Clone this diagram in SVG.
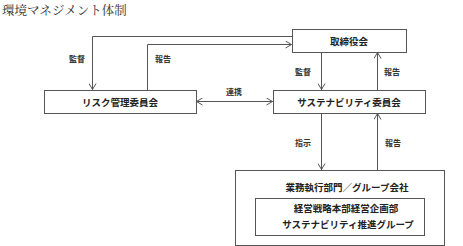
<svg xmlns="http://www.w3.org/2000/svg" width="463" height="246" viewBox="0 0 463 246">
<style>
.box{fill:#fff;stroke:#555;stroke-width:1}
.t{font-family:"Noto Sans CJK JP","Noto Sans CJK SC",sans-serif;font-weight:bold;font-size:9.5px;fill:#222;text-anchor:middle}
.l{font-family:"Noto Sans CJK JP","Noto Sans CJK SC",sans-serif;font-weight:bold;font-size:8px;fill:#333;text-anchor:middle}
.c{fill:none;stroke:#555;stroke-width:1}
</style>
<defs>
<marker id="a" viewBox="0 0 8 8" refX="7" refY="4" markerWidth="8" markerHeight="8" markerUnits="userSpaceOnUse" orient="auto-start-reverse">
<path d="M1,0.5 L7,4 L1,7.5" fill="none" stroke="#555" stroke-width="1"/>
</marker>
</defs>
<text x="2" y="14.5" font-family="'Noto Serif CJK JP','Noto Sans CJK JP',serif" font-size="12.5" fill="#333">環境マネジメント体制</text>
<g id="connectors">
<path class="c" d="M292,36.5 H92.5 V89.5" marker-end="url(#a)"/>
<path class="c" d="M147.5,90 V44.5 H291.5" marker-end="url(#a)"/>
<path class="c" d="M196.5,101.5 H272.5" marker-start="url(#a)" marker-end="url(#a)"/>
<path class="c" d="M321.5,52 V89.5" marker-end="url(#a)"/>
<path class="c" d="M377.5,90 V52.5" marker-end="url(#a)"/>
<path class="c" d="M321.5,113 V169.5" marker-end="url(#a)"/>
<path class="c" d="M377.5,170 V113.5" marker-end="url(#a)"/>
<text class="l" x="77" y="62">監督</text>
<text class="l" x="163" y="62">報告</text>
<text class="l" x="234" y="95">連携</text>
<text class="l" x="303" y="75">監督</text>
<text class="l" x="392" y="75">報告</text>
<text class="l" x="303" y="146">指示</text>
<text class="l" x="393" y="146">報告</text>
</g>
<g id="board">
<rect class="box" x="292.5" y="29.5" width="114" height="23"/>
<text class="t" x="349" y="44.5">取締役会</text>
</g>
<g id="risk">
<rect class="box" x="44.5" y="90.5" width="152" height="23"/>
<text class="t" x="120" y="105.5">リスク管理委員会</text>
</g>
<g id="sustainability">
<rect class="box" x="273.5" y="90.5" width="152" height="23"/>
<text class="t" x="349" y="105.5">サステナビリティ委員会</text>
</g>
<g id="business">
<rect class="box" x="235.5" y="170.5" width="209" height="75"/>
<text class="t" x="347" y="190.5">業務執行部門／グループ会社</text>
</g>
<g id="promotion">
<rect class="box" x="255.5" y="198.5" width="169" height="37"/>
<text class="t" x="346" y="212">経営戦略本部経営企画部</text>
<text class="t" x="348" y="228">サステナビリティ推進グループ</text>
</g>
</svg>
